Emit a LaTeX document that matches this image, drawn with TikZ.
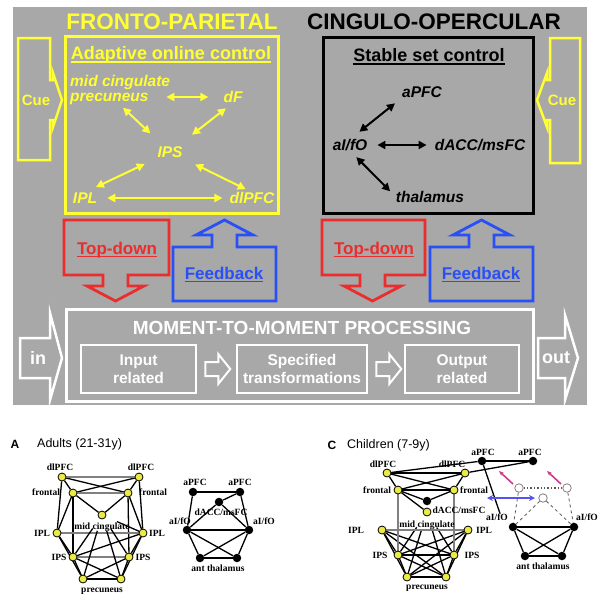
\documentclass[tikz,border=0pt]{standalone}
\usepackage{fontspec}
\setmainfont{Liberation Sans}
\newfontfamily\tnr{Liberation Serif}
\usetikzlibrary{arrows.meta}
\definecolor{panel}{RGB}{168,168,168}
\definecolor{yel}{RGB}{255,255,51}
\definecolor{tdred}{RGB}{235,45,45}
\definecolor{fbblue}{RGB}{40,80,245}
\definecolor{nodeyel}{RGB}{235,235,70}
\definecolor{pinkarr}{RGB}{205,60,140}
\definecolor{bluarr}{RGB}{85,85,235}
\pgfdeclarelayer{bg}
\pgfsetlayers{bg,main}
\tikzset{
 ttl/.style={font=\bfseries\fontsize{22.5}{27}\selectfont, inner sep=0},
 hd/.style={font=\bfseries\fontsize{18}{22}\selectfont, inner sep=0, text height=13pt, text depth=0pt},
 rg/.style={font=\bfseries\itshape\fontsize{15.5}{16}\selectfont, inner sep=0, text height=11pt, text depth=0pt},
 cuetxt/.style={font=\bfseries\fontsize{15}{18}\selectfont, text=yel, inner sep=0},
 tdtxt/.style={font=\bfseries\fontsize{17}{20}\selectfont, inner sep=0, text height=12pt, text depth=0pt},
 mtxt/.style={font=\bfseries\fontsize{19}{22}\selectfont, text=white, inner sep=0},
 ibox/.style={draw=white, line width=2.5pt, text=white, align=center, font=\bfseries\fontsize{15.5}{18}\selectfont, minimum height=48pt, inner sep=0},
 inout/.style={font=\bfseries\fontsize{18}{20}\selectfont, text=white, inner sep=0},
 yarr/.style={draw=yel, line width=2pt, {Triangle[length=8pt,width=8pt]}-{Triangle[length=8pt,width=8pt]}},
 barr/.style={draw=black, line width=2pt, {Triangle[length=8pt,width=8pt]}-{Triangle[length=8pt,width=8pt]}},
 lb/.style={font=\tnr\bfseries\fontsize{9.5}{10}\selectfont, inner sep=0},
 yn/.style={circle, draw=black, fill=nodeyel, line width=0.8pt, inner sep=0, minimum size=8pt},
 bn/.style={circle, fill=black, inner sep=0, minimum size=8.5pt},
 hn/.style={circle, draw=gray, fill=white, line width=0.8pt, inner sep=0, minimum size=8.5pt},
 ed/.style={line width=1.3pt},
 ged/.style={line width=1.3pt, draw=gray},
 dsh/.style={line width=0.8pt, dashed, draw=gray!70!black},
 blk/.style={line width=2.8pt, line join=miter},
}
\begin{document}
\begin{tikzpicture}[x=1pt,y=-1pt]
\useasboundingbox (0,0) rectangle (610,603);
\begin{pgfonlayer}{bg}
\fill[white] (0,0) rectangle (610,603);
\fill[panel] (13,7) rectangle (587,405);
\end{pgfonlayer}

% ---------- titles ----------
\node[ttl, text=yel] (fp) at (172,22) {FRONTO-PARIETAL};
\node[ttl, text=black] (co) at (434,22) {CINGULO-OPERCULAR};

\draw[yel, line width=3pt] (65,36) rectangle (278,213);
\draw[black, line width=3pt] (323,37) rectangle (533,213);

\node[hd, text=yel] (aoc) at (171,53) {Adaptive online control};
\draw[yel, line width=1.8pt] ([yshift=-2.5pt]aoc.base west) -- ([yshift=-2.5pt]aoc.base east);
\node[hd, text=black] (ssc) at (429,55) {Stable set control};
\draw[black, line width=1.8pt] ([yshift=-2.5pt]ssc.base west) -- ([yshift=-2.5pt]ssc.base east);

% ---------- fronto-parietal box ----------
\node[font=\bfseries\itshape\fontsize{15.5}{15}\selectfont, text=yel, inner sep=0, align=left, anchor=west] (mcp) at (70,90) {mid cingulate\\precuneus};
\node[rg, text=yel] (df) at (233,97) {dF};
\node[rg, text=yel] (ips) at (170,152) {IPS};
\node[rg, text=yel] (ipl) at (85,198) {IPL};
\node[rg, text=yel] (dlp) at (252,198) {dlPFC};
\draw[yarr, shorten <=-4pt, shorten >=15pt] (mcp.east |- df.center) -- (df.west);
\draw[yarr, shorten <=27pt, shorten >=4pt] (ips.center) -- (mcp.south);
\draw[yarr, shorten <=28pt, shorten >=9pt] (ips.center) -- (df.south);
\draw[yarr, shorten <=28pt, shorten >=12pt] (ips.center) -- (ipl.north);
\draw[yarr, shorten <=28pt, shorten >=7pt] (ips.center) -- (dlp.north);
\draw[yarr, shorten <=10pt, shorten >=7pt] (ipl.east) -- (dlp.west);

% ---------- cingulo-opercular box ----------
\node[rg] (apfc) at (422,92) {aPFC};
\node[rg] (aifo) at (350,145) {aI/fO};
\node[rg] (dacc) at (480,145) {dACC/msFC};
\node[rg] (thal) at (430,197) {thalamus};
\draw[barr, shorten <=12pt, shorten >=9pt] (aifo.north) -- (apfc.south west);
\draw[barr, shorten <=10pt, shorten >=8pt] (aifo.east) -- (dacc.west);
\draw[barr, shorten <=9pt, shorten >=8pt] (aifo.south) -- (thal.west);

% ---------- cue arrows ----------
\draw[yel, line width=2.5pt, line join=miter] (18,38) -- (50,38) -- (50,80) -- (53,80) -- (53,73) -- (62,100) -- (53,127) -- (53,120) -- (50,120) -- (50,160) -- (18,160) -- cycle;
\node[cuetxt] (cueL) at (36,100) {Cue};
\draw[yel, line width=2.5pt, line join=miter] (580,38) -- (550,38) -- (550,80) -- (547,80) -- (547,73) -- (537,100) -- (547,127) -- (547,120) -- (550,120) -- (550,163) -- (580,163) -- cycle;
\node[cuetxt] (cueR) at (562,100) {Cue};

% ---------- top-down / feedback ----------
\draw[tdred, blk] (64,220) -- (169,220) -- (169,275) -- (128,275) -- (128,286) -- (144,286) -- (115.5,301) -- (87,286) -- (103,286) -- (103,275) -- (64,275) -- cycle;
\node[tdtxt, text=tdred] (tdL) at (117,248) {Top-down};
\draw[tdred, line width=1.6pt] ([yshift=-2.5pt]tdL.base west) -- ([yshift=-2.5pt]tdL.base east);
\draw[fbblue, blk] (173,301) -- (276,301) -- (276,247) -- (237,247) -- (237,235) -- (253,235) -- (224.5,220) -- (196,235) -- (212,235) -- (212,247) -- (173,247) -- cycle;
\node[tdtxt, text=fbblue] (fbL) at (224,273) {Feedback};
\draw[fbblue, line width=1.6pt] ([yshift=-2.5pt]fbL.base west) -- ([yshift=-2.5pt]fbL.base east);

\draw[tdred, blk] (322,220) -- (425,220) -- (425,275) -- (385,275) -- (385,286) -- (401,286) -- (372.5,301) -- (344,286) -- (360,286) -- (360,275) -- (322,275) -- cycle;
\node[tdtxt, text=tdred] (tdR) at (374,248) {Top-down};
\draw[tdred, line width=1.6pt] ([yshift=-2.5pt]tdR.base west) -- ([yshift=-2.5pt]tdR.base east);
\draw[fbblue, blk] (430,301) -- (533,301) -- (533,247) -- (494,247) -- (494,235) -- (510,235) -- (481.5,220) -- (453,235) -- (469,235) -- (469,247) -- (430,247) -- cycle;
\node[tdtxt, text=fbblue] (fbR) at (481,273) {Feedback};
\draw[fbblue, line width=1.6pt] ([yshift=-2.5pt]fbR.base west) -- ([yshift=-2.5pt]fbR.base east);

% ---------- moment-to-moment ----------
\draw[white, line width=3pt] (66,309) rectangle (533,401);
\node[mtxt] (mm) at (302,328) {MOMENT-TO-MOMENT PROCESSING};
\node[ibox, minimum width=115pt] (inb) at (138.5,369) {Input\\related};
\node[ibox, minimum width=130pt] (spb) at (302,369) {Specified\\transformations};
\node[ibox, minimum width=114pt] (oub) at (462,369) {Output\\related};
\draw[white, line width=2pt, line join=miter] (inb.east) ++(8,-7) -- ++(13,0) -- ++(0,-8) -- ++(12,15) -- ++(-12,15) -- ++(0,-8) -- ++(-13,0) -- cycle;
\draw[white, line width=2pt, line join=miter] (spb.east) ++(8,-7) -- ++(13,0) -- ++(0,-8) -- ++(12,15) -- ++(-12,15) -- ++(0,-8) -- ++(-13,0) -- cycle;
\draw[white, line width=2.5pt, line join=miter] (20,338) -- (50,338) -- (50,313) -- (62,358) -- (50,400) -- (50,378) -- (20,378) -- cycle;
\node[inout] (inl) at (38,358) {in};
\draw[white, line width=2.5pt, line join=miter] (538,338) -- (565,338) -- (565,315) -- (578,358) -- (565,400) -- (565,378) -- (538,378) -- cycle;
\node[inout] (outl) at (556,358) {out};

% ---------- panel A ----------
\node[font=\bfseries\fontsize{12}{14}\selectfont, inner sep=0] (lA) at (15,444) {A};
\node[font=\fontsize{12.5}{14}\selectfont, inner sep=0, anchor=west] (tA) at (37,444) {Adults (21-31y)};

\node[yn] (dlL) at (62,477) {};
\node[yn] (dlR) at (139,477) {};
\node[yn] (frL) at (73,493) {};
\node[yn] (frR) at (128,493) {};
\node[yn] (mc) at (102,515) {};
\node[yn] (iplL) at (57,533) {};
\node[yn] (iplR) at (143,533) {};
\node[yn] (ipsL) at (73,557) {};
\node[yn] (ipsR) at (129,557) {};
\node[yn] (prL) at (83,579) {};
\node[yn] (prR) at (121,579) {};
\node[lb] (tdlL) at (60,467) {dlPFC};
\node[lb] (tdlR) at (141,467) {dlPFC};
\node[lb] (tfrL) at (46,492) {frontal};
\node[lb] (tfrR) at (153,492) {frontal};
\node[lb] (tmc) at (102,527) {mid cingulate};
\node[lb] (tiplL) at (42,533) {IPL};
\node[lb] (tiplR) at (157,533) {IPL};
\node[lb] (tipsL) at (59,557) {IPS};
\node[lb] (tipsR) at (143,557) {IPS};
\node[lb] (tpr) at (102,591) {precuneus};

\node[bn] (aL) at (193,492) {};
\node[bn] (aR) at (240,492) {};
\node[bn] (dc) at (219,502) {};
\node[bn] (aiL) at (187,530) {};
\node[bn] (aiR) at (249,530) {};
\node[bn] (thL) at (200,558) {};
\node[bn] (thR) at (237,558) {};
\node[lb] (taL) at (195,482) {aPFC};
\node[lb] (taR) at (240,482) {aPFC};
\node[lb] (tdc) at (221,512) {dACC/msFC};
\node[lb] (taiL) at (180,521) {aI/fO};
\node[lb] (taiR) at (264,521) {aI/fO};
\node[lb] (tth) at (218,568) {ant thalamus};

\begin{pgfonlayer}{bg}
\foreach \a/\b in {dlL/frL,dlR/frR,dlL/frR,dlR/frL,dlL/iplL,dlR/iplR,frL/mc,frR/mc,frL/ipsL,frR/ipsR,frL/iplL,frR/iplR,iplL/ipsL,iplR/ipsR,iplL/prL,iplR/prR,ipsL/prL,ipsR/prR,ipsL/prR,ipsR/prL,prL/prR,iplR/ipsL}
  \draw[ed] (\a) -- (\b);
\foreach \a/\b in {dlL/dlR,frL/frR,iplL/iplR,ipsL/ipsR}
  \draw[ged] (\a) -- (\b);
\foreach \b in {ipsL,prL,prR,ipsR,iplR}
  \draw[ed, shorten <=12pt] (mc) -- (\b);
\foreach \a/\b in {aL/aR,aL/aiL,aR/aiR,aR/dc,dc/aiL,dc/aiR,aiL/aiR,aiL/thL,aiR/thR,aiL/thR,aiR/thL,thL/thR}
  \draw[ed] (\a) -- (\b);
\end{pgfonlayer}

% ---------- panel C ----------
\node[font=\bfseries\fontsize{12}{14}\selectfont, inner sep=0] (lC) at (332,445) {C};
\node[font=\fontsize{12.5}{14}\selectfont, inner sep=0, anchor=west] (tC) at (347,445) {Children (7-9y)};

\node[yn] (cdlL) at (387,473) {};
\node[yn] (cdlR) at (465,473) {};
\node[yn] (cfrL) at (398,490) {};
\node[yn] (cfrR) at (454,490) {};
\node[bn] (cdc) at (427,501) {};
\node[yn] (cmc) at (427,512) {};
\node[yn] (ciplL) at (382,530) {};
\node[yn] (ciplR) at (468,530) {};
\node[yn] (cipsL) at (398,555) {};
\node[yn] (cipsR) at (454,555) {};
\node[yn] (cprL) at (407,577) {};
\node[yn] (cprR) at (446,577) {};
\node[lb] (tcdlL) at (383,464) {dlPFC};
\node[lb] (tcdlR) at (452,464) {dlPFC};
\node[lb] (tcfrL) at (377,490) {frontal};
\node[lb] (tcfrR) at (474,490) {frontal};
\node[lb] (tcdc) at (459,510) {dACC/msFC};
\node[lb] (tcmc) at (427,525) {mid cingulate};
\node[lb] (tciplL) at (356,530) {IPL};
\node[lb] (tciplR) at (484,530) {IPL};
\node[lb] (tcipsL) at (380,555) {IPS};
\node[lb] (tcipsR) at (472,555) {IPS};
\node[lb] (tcpr) at (427,588) {precuneus};

\node[bn] (caL) at (482,461) {};
\node[bn] (caR) at (533,461) {};
\node[hn] (hTL) at (519,488) {};
\node[hn] (hTR) at (567,488) {};
\node[hn] (hM) at (543,498) {};
\node[bn] (caiL) at (513,527) {};
\node[bn] (caiR) at (574,527) {};
\node[bn] (cthL) at (525,556) {};
\node[bn] (cthR) at (562,556) {};
\node[lb] (tcaL) at (483,452) {aPFC};
\node[lb] (tcaR) at (530,452) {aPFC};
\node[lb] (tcaiL) at (497,517) {aI/fO};
\node[lb] (tcaiR) at (587,517) {aI/fO};
\node[lb] (tcth) at (543,566) {ant thalamus};

\coordinate (p1a) at (513,484);
\coordinate (p1b) at (499,471);
\coordinate (p2a) at (561,484);
\coordinate (p2b) at (547,471);
\coordinate (ba) at (487,498);
\coordinate (bb) at (535,498);

\begin{pgfonlayer}{bg}
\foreach \a/\b in {cdlL/cdlR,cdlL/cfrL,cdlR/cfrR,cdlL/cfrR,cdlR/cfrL,cfrL/cfrR,cfrL/cdc,cfrR/cdc,cfrL/cmc,cdlL/caL,cdlR/caR,
  ciplL/cipsL,ciplL/cipsR,ciplL/cprL,ciplL/cprR,ciplR/cipsL,ciplR/cipsR,ciplR/cprL,ciplR/cprR,cipsL/cipsR,cipsL/cprL,cipsL/cprR,cipsR/cprL,cipsR/cprR,cprL/cprR,
  caL/caR,caiL/caiR,caiL/cthL,caiR/cthR,caiL/cthR,caiR/cthL,cthL/cthR}
  \draw[ed] (\a) -- (\b);
\foreach \b in {cipsL,cprL,cprR,cipsR}
  \draw[ed, shorten <=14pt] (cmc) -- (\b);
\foreach \a/\b in {cfrL/cipsL,cfrR/cipsR,ciplL/ciplR}
  \draw[ged] (\a) -- (\b);
\draw[ed] (caL) -- ([xshift=3pt]tcaiL.north);
\draw[line width=1.4pt, dotted, draw=gray!70!black] (hTL) -- (hTR);
\foreach \a/\b in {hTL/caiL,hM/caiL,hM/caiR,hTR/caiR}
  \draw[dsh] (\a) -- (\b);
\end{pgfonlayer}
\draw[pinkarr, line width=1.6pt, -{Stealth[length=5pt,width=4pt]}] (p1a) -- (p1b);
\draw[pinkarr, line width=1.6pt, -{Stealth[length=5pt,width=4pt]}] (p2a) -- (p2b);
\draw[bluarr, line width=1.6pt, {Stealth[length=6pt,width=6pt]}-{Stealth[length=6pt,width=6pt]}] (ba) -- (bb);
\end{tikzpicture}
\end{document}
